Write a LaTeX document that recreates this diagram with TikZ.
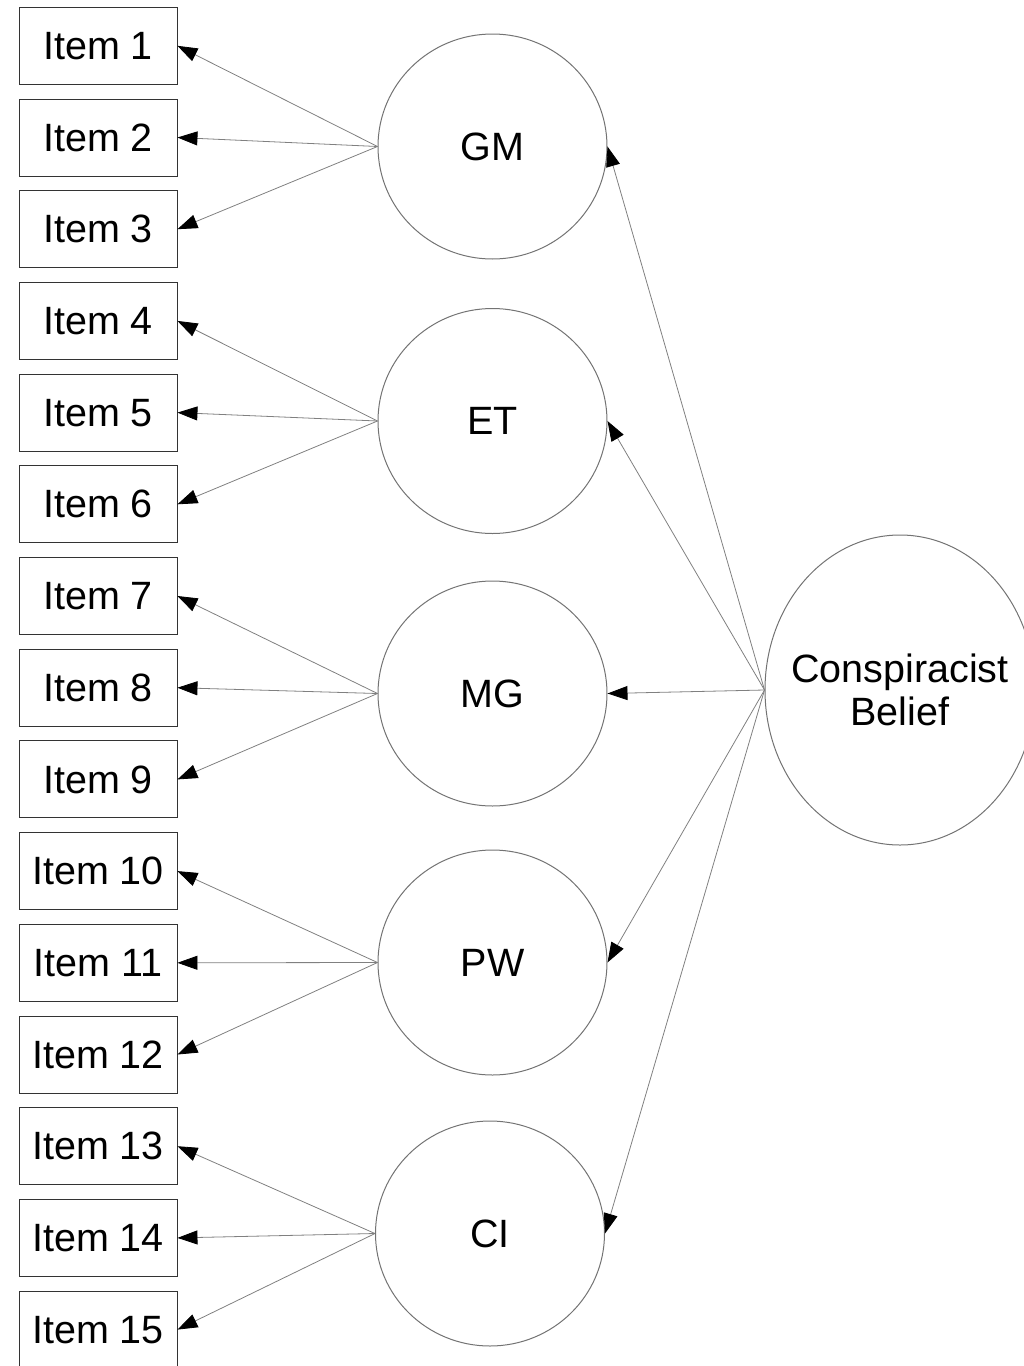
\documentclass[tikz,border=0pt]{standalone}
\usepackage{fontspec}
\setmainfont{Liberation Sans}
\usetikzlibrary{arrows.meta,shapes.geometric}
\begin{document}
\begin{tikzpicture}[x=1pt,y=-1pt,
 itembox/.style={draw=black!80, line width=0.9pt, minimum width=158pt, minimum height=77pt, inner sep=0pt, font=\fontsize{39.5}{45}\selectfont},
 factor/.style={ellipse, draw=black!55, line width=1pt, minimum width=229pt, minimum height=225pt, inner sep=0pt, font=\fontsize{39.5}{45}\selectfont},
 general/.style={ellipse, draw=black!55, line width=1pt, minimum width=270pt, minimum height=310pt, inner xsep=-15pt, inner ysep=0pt, align=center, font=\fontsize{39.5}{43}\selectfont},
 load/.style={draw=black!50, line width=0.8pt, -{Triangle[length=20pt,width=14pt,color=black]}},
]
\clip (0,0) rectangle (1024,1366);
\useasboundingbox (0,0) rectangle (1024,1366);
\foreach \i in {1,...,15}{
  \node[itembox] (i\i) at (98, {45.8+91.7*(\i-1)}) {Item \i};
}
\node[factor] (GM) at (492.5,146.5) {GM};
\node[factor] (ET) at (492.5,421) {ET};
\node[factor] (MG) at (492.5,693.5) {MG};
\node[factor] (PW) at (492.5,962.5) {PW};
\node[factor] (CI) at (490,1233.5) {CI};
\node[general] (CB) at (900,690) {Conspiracist\\Belief};
\draw[load] (GM.west) -- (i1.east);
\draw[load] (GM.west) -- (i2.east);
\draw[load] (GM.west) -- (i3.east);
\draw[load] (ET.west) -- (i4.east);
\draw[load] (ET.west) -- (i5.east);
\draw[load] (ET.west) -- (i6.east);
\draw[load] (MG.west) -- (i7.east);
\draw[load] (MG.west) -- (i8.east);
\draw[load] (MG.west) -- (i9.east);
\draw[load] (PW.west) -- (i10.east);
\draw[load] (PW.west) -- (i11.east);
\draw[load] (PW.west) -- (i12.east);
\draw[load] (CI.west) -- (i13.east);
\draw[load] (CI.west) -- (i14.east);
\draw[load] (CI.west) -- (i15.east);
\draw[load] (CB.west) -- (GM.east);
\draw[load] (CB.west) -- (ET.east);
\draw[load] (CB.west) -- (MG.east);
\draw[load] (CB.west) -- (PW.east);
\draw[load] (CB.west) -- (CI.east);
\end{tikzpicture}
\end{document}
